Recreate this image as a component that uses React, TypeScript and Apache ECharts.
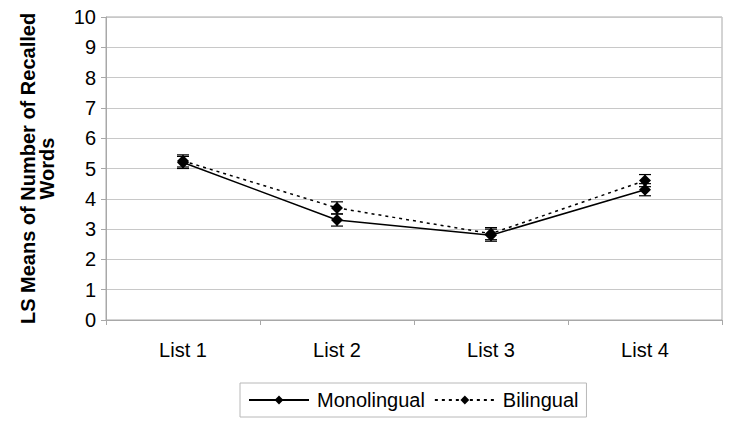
import React, { useEffect, useRef } from "react";
import * as echarts from "echarts";

const categories = ["List 1", "List 2", "List 3", "List 4"];
const monolingual = [5.2, 3.3, 2.8, 4.3];
const bilingual = [5.25, 3.7, 2.85, 4.6];
const monoErr = [0.2, 0.2, 0.2, 0.2];
const biErr = [0.2, 0.2, 0.2, 0.2];
const yTicks = { min: 0, max: 10, interval: 1 };

const FONT = "'Liberation Sans', Arial, sans-serif";

function errorSeries(values: number[], errs: number[]) {
  return {
    type: "custom",
    silent: true,
    z: 1,
    data: values.map((v, i) => [i, v - errs[i], v + errs[i]]),
    renderItem: (params: any, api: any) => {
      const x = api.value(0);
      const lo = api.coord([x, api.value(1)]);
      const hi = api.coord([x, api.value(2)]);
      const hw = 6;
      const style = { stroke: "#000", lineWidth: 1.2 };
      return {
        type: "group",
        children: [
          { type: "line", shape: { x1: lo[0], y1: lo[1], x2: hi[0], y2: hi[1] }, style },
          { type: "line", shape: { x1: lo[0] - hw, y1: lo[1], x2: lo[0] + hw, y2: lo[1] }, style },
          { type: "line", shape: { x1: hi[0] - hw, y1: hi[1], x2: hi[0] + hw, y2: hi[1] }, style },
        ],
      };
    },
  };
}

export default function App() {
  const ref = useRef<HTMLDivElement>(null);
  useEffect(() => {
    const chart = echarts.init(ref.current!, null, { renderer: "svg" });
    chart.setOption({
      animation: false,
      backgroundColor: "#fff",
      textStyle: { fontFamily: FONT },
      grid: {
        left: 106,
        right: 8,
        top: 17,
        bottom: 106,
        show: true,
        borderColor: "#a8a8a8",
        borderWidth: 1,
      },
      xAxis: {
        type: "category",
        data: categories,
        boundaryGap: true,
        axisLine: { lineStyle: { color: "#a8a8a8" } },
        axisTick: { show: true, length: 5, lineStyle: { color: "#a8a8a8" } },
        axisLabel: { color: "#000", fontSize: 20, margin: 20, fontFamily: FONT },
      },
      yAxis: {
        type: "value",
        min: yTicks.min,
        max: yTicks.max,
        interval: yTicks.interval,
        name: "LS Means of Number of Recalled\nWords",
        nameLocation: "middle",
        nameGap: 50,
        nameTextStyle: {
          color: "#000",
          fontSize: 20,
          fontWeight: "bold",
          fontFamily: FONT,
          lineHeight: 19,
        },
        axisLine: { show: true, lineStyle: { color: "#a8a8a8" } },
        axisTick: { show: true, length: 5, lineStyle: { color: "#a8a8a8" } },
        axisLabel: { color: "#000", fontSize: 20, margin: 10, fontFamily: FONT },
        splitLine: { lineStyle: { color: "#c8c8c8", width: 1 } },
      },
      legend: {
        left: 240,
        top: 383,
        width: 348,
        itemGap: 9,
        itemWidth: 60,
        itemHeight: 11,
        padding: [7, 8, 7, 8],
        borderColor: "#b8b8b8",
        borderWidth: 1,
        textStyle: { color: "#000", fontSize: 20, fontFamily: FONT, padding: [0, 0, 0, 3] },
        data: ["Monolingual", "Bilingual"],
      },
      series: [
        errorSeries(monolingual, monoErr),
        errorSeries(bilingual, biErr),
        {
          name: "Monolingual",
          type: "line",
          data: monolingual,
          z: 3,
          symbol: "diamond",
          symbolSize: 12,
          itemStyle: { color: "#000" },
          lineStyle: { color: "#000", width: 1.5, type: "solid" },
        },
        {
          name: "Bilingual",
          type: "line",
          data: bilingual,
          z: 3,
          symbol: "diamond",
          symbolSize: 12,
          itemStyle: { color: "#000" },
          lineStyle: { color: "#000", width: 1.5, type: [3, 4] },
        },
      ],
    });
    return () => chart.dispose();
  }, []);
  return <div ref={ref} style={{ width: 730, height: 426, position: "absolute", left: 0, top: 0 }} />;
}
